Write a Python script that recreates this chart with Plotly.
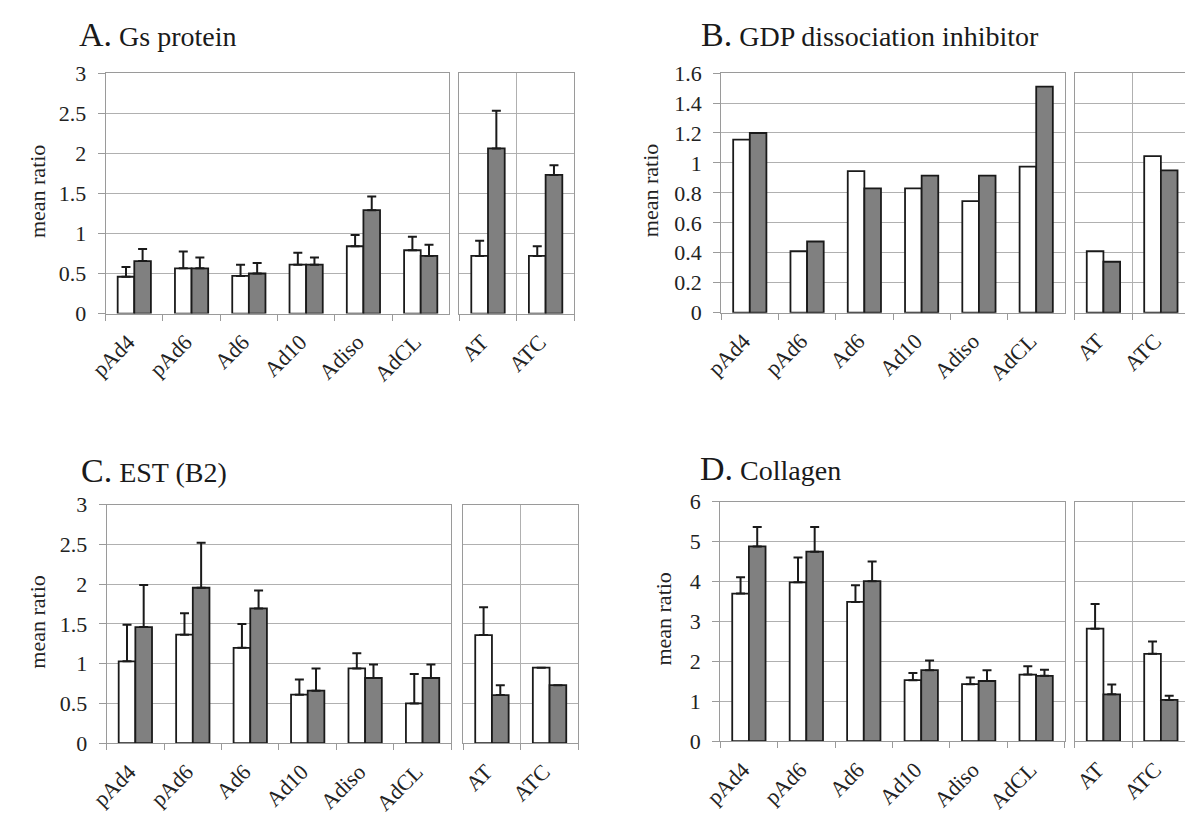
import plotly.graph_objects as go

# ---- data -------------------------------------------------------------
categories = ["pAd4", "pAd6", "Ad6", "Ad10", "Adiso", "AdCL", "AT", "ATC"]

# A. Gs protein
gs_open = [0.46, 0.565, 0.47, 0.61, 0.84, 0.79, 0.72, 0.72]
gs_open_err = [0.12, 0.21, 0.14, 0.15, 0.14, 0.17, 0.19, 0.12]
gs_filled = [0.655, 0.565, 0.50, 0.61, 1.29, 0.72, 2.06, 1.73]
gs_filled_err = [0.15, 0.135, 0.13, 0.09, 0.17, 0.14, 0.47, 0.12]

# B. GDP dissociation inhibitor (no error bars)
gdi_open = [1.155, 0.41, 0.945, 0.83, 0.745, 0.975, 0.41, 1.045]
gdi_filled = [1.20, 0.475, 0.83, 0.915, 0.915, 1.51, 0.34, 0.95]

# C. EST (B2)
est_open = [1.03, 1.365, 1.20, 0.61, 0.94, 0.50, 1.36, 0.95]
est_open_err = [0.46, 0.27, 0.30, 0.19, 0.19, 0.37, 0.35, 0.0]
est_filled = [1.46, 1.955, 1.695, 0.66, 0.82, 0.82, 0.605, 0.73]
est_filled_err = [0.53, 0.565, 0.225, 0.28, 0.17, 0.17, 0.125, 0.0]

# D. Collagen
col_open = [3.70, 3.98, 3.49, 1.53, 1.43, 1.67, 2.82, 2.19]
col_open_err = [0.41, 0.62, 0.42, 0.18, 0.17, 0.21, 0.62, 0.31]
col_filled = [4.88, 4.75, 4.01, 1.78, 1.51, 1.64, 1.175, 1.035]
col_filled_err = [0.49, 0.62, 0.49, 0.24, 0.27, 0.15, 0.245, 0.105]

# ---- page geometry (pixels) -------------------------------------------
W, H = 1185, 827
FONT = "Liberation Serif, Times New Roman, serif"
LINE = "#9a9a9a"
GRID = "#b0b0b0"
TEXT = "#222222"
OPEN_FILL = "#ffffff"
FILLED_FILL = "#808080"
EDGE = "#1a1a1a"

panels = [
    dict(letter="A.", name=" Gs protein", main=(89, 438), side=(448, 565),
         rows=(63, 311), yrange=[0, 3], dtick=0.5, side_range=[-0.5, 1.5],
         side_mirror=True, ytitle_x=20, title_x=60, title_gap=40,
         open=gs_open, open_err=gs_open_err,
         filled=gs_filled, filled_err=gs_filled_err),
    dict(letter="B.", name=" GDP dissociation inhibitor", main=(714, 1063),
         side=(1073, 1185), rows=(63, 310), yrange=[0, 1.6], dtick=0.2,
         side_range=[-0.5, 1.42], side_mirror=False, ytitle_x=643,
         title_x=691, title_gap=40,
         open=gdi_open, open_err=None, filled=gdi_filled, filled_err=None),
    dict(letter="C.", name=" EST (B2)", main=(90, 440), side=(452, 569),
         rows=(508, 754), yrange=[0, 3], dtick=0.5, side_range=[-0.5, 1.5],
         side_mirror=True, ytitle_x=20, title_x=62, title_gap=35,
         open=est_open, open_err=est_open_err,
         filled=est_filled, filled_err=est_filled_err),
    dict(letter="D.", name=" Collagen", main=(713, 1063), side=(1073, 1185),
         rows=(505, 752), yrange=[0, 6], dtick=1, side_range=[-0.5, 1.42],
         side_mirror=False, ytitle_x=656, title_x=690, title_gap=34,
         open=col_open, open_err=col_open_err,
         filled=col_filled, filled_err=col_filled_err),
]


def xdom(a, b):
    return [a / W, min(b / W, 1.0)]


def ydom(top, bottom):
    return [1 - bottom / H, 1 - top / H]


def err_spec(values):
    if values is None:
        return dict(visible=False)
    return dict(type="data", symmetric=False, array=values,
                arrayminus=[0] * len(values), color=EDGE,
                thickness=2, width=4.5)


fig = go.Figure()
layout = {}
annotations = []
tick_font = dict(family=FONT, size=22, color=TEXT)

n_main = 6
ax = 0
for p in panels:
    for part in ("main", "side"):
        ax += 1
        xa = "x" if ax == 1 else f"x{ax}"
        ya = "y" if ax == 1 else f"y{ax}"
        sl = slice(0, n_main) if part == "main" else slice(n_main, None)
        cats = categories[sl]
        for vals, errs, fill in ((p["open"], p["open_err"], OPEN_FILL),
                                 (p["filled"], p["filled_err"], FILLED_FILL)):
            fig.add_trace(go.Bar(
                x=cats, y=vals[sl], xaxis=xa, yaxis=ya,
                marker=dict(color=fill, line=dict(color=EDGE, width=1.8)),
                error_y=err_spec(errs[sl] if errs is not None else None),
                showlegend=False, hoverinfo="x+y",
            ))
        is_main = part == "main"
        xkey = "xaxis" if ax == 1 else f"xaxis{ax}"
        ykey = "yaxis" if ax == 1 else f"yaxis{ax}"
        span = p[part]
        layout[xkey] = dict(
            domain=xdom(*span), anchor=ya, type="category",
            categoryorder="array", categoryarray=cats,
            range=[-0.5, n_main - 0.5] if is_main else p["side_range"],
            tickson="boundaries", ticks="outside", ticklen=6,
            tickcolor=LINE, tickwidth=1, tickangle=-45,
            tickfont=tick_font, ticklabelstandoff=6, ticklabelshift=-6,
            showline=True, linecolor=LINE, linewidth=1,
            mirror=True, showgrid=not is_main, gridcolor=GRID, gridwidth=1,
            zeroline=False, fixedrange=True,
        )
        layout[ykey] = dict(
            domain=ydom(*p["rows"]), anchor=xa, range=p["yrange"],
            dtick=p["dtick"], tick0=0, showgrid=True, gridcolor=GRID,
            gridwidth=1, zeroline=False, showline=True, linecolor=LINE,
            linewidth=1, mirror=True if is_main else p["side_mirror"],
            ticks="outside" if is_main else "", ticklen=7, tickcolor=LINE,
            showticklabels=is_main, tickfont=tick_font,
            ticklabelstandoff=7, fixedrange=True,
        )

    top, bottom = p["rows"]
    annotations.append(dict(
        xref="paper", yref="paper", x=p["title_x"] / W,
        y=1 - (top - p["title_gap"]) / H,
        xanchor="left", yanchor="middle", showarrow=False,
        text=f"<span style='font-size:34px'>{p['letter']}</span>"
             f"<span style='font-size:28px'>{p['name']}</span>",
        font=dict(family=FONT, size=28, color="#1a1a1a"),
    ))
    annotations.append(dict(
        xref="paper", yref="paper", x=p["ytitle_x"] / W,
        y=1 - ((top + bottom) / 2 - 2) / H, xanchor="center", yanchor="middle",
        textangle=-90, showarrow=False, text="mean ratio",
        font=dict(family=FONT, size=22, color=TEXT),
    ))

fig.update_layout(
    width=W, height=H, autosize=False,
    margin=dict(l=0, r=0, t=0, b=0),
    paper_bgcolor="white", plot_bgcolor="white",
    barmode="group", bargap=0.42, bargroupgap=0,
    showlegend=False, annotations=annotations,
    **layout,
)

fig.write_html("out.html")
